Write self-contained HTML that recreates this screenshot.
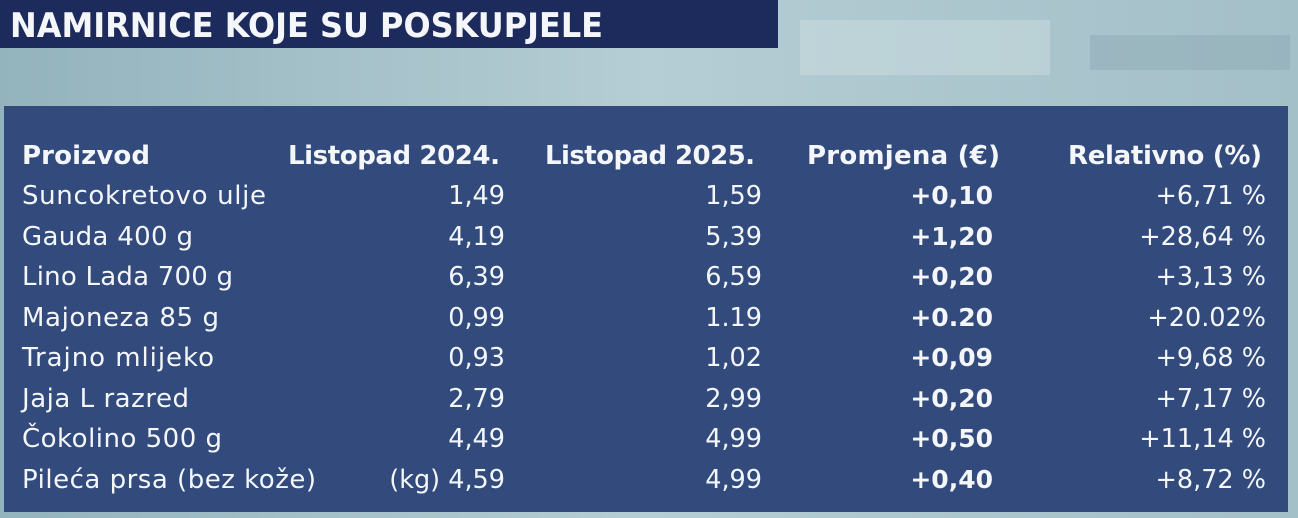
<!DOCTYPE html>
<html><head><meta charset="utf-8"><style>
html,body{margin:0;padding:0;width:1298px;height:518px;overflow:hidden;background:#9fbcc6}
svg{display:block}
text{font-family:"DejaVu Sans","Liberation Sans",sans-serif;fill:#f4f6fa}
</style></head><body>
<svg width="1298" height="518" viewBox="0 0 1298 518">
<defs>
<linearGradient id="bg" x1="0" y1="0" x2="1" y2="0">
<stop offset="0" stop-color="#93b3bd"/><stop offset="0.5" stop-color="#b5cdd4"/><stop offset="1" stop-color="#a3bfc8"/>
</linearGradient>
</defs>
<rect width="1298" height="518" fill="url(#bg)"/>
<rect x="800" y="20" width="250" height="55" fill="#cfdfe3" opacity="0.45"/>
<rect x="1090" y="35" width="200" height="35" fill="#8eaab4" opacity="0.5"/>
<rect x="0" y="0" width="778" height="48" fill="#1d2b5c"/>
<text x="10" y="37" font-size="34" font-weight="bold" textLength="593" lengthAdjust="spacingAndGlyphs">NAMIRNICE KOJE SU POSKUPJELE</text>
<rect x="4" y="106" width="1284" height="406" fill="#324b7c"/>
<g font-size="26">
<g font-weight="bold" lengthAdjust="spacingAndGlyphs">
<text x="22" y="164" textLength="128">Proizvod</text>
<text x="288" y="164" textLength="212">Listopad 2024.</text>
<text x="545" y="164" textLength="210">Listopad 2025.</text>
<text x="807" y="164" textLength="193">Promjena (€)</text>
<text x="1068" y="164" textLength="194">Relativno (%)</text>
</g>
<g lengthAdjust="spacingAndGlyphs">
<text x="22" y="204" textLength="244">Suncokretovo ulje</text>
<text x="22" y="245" textLength="171">Gauda 400 g</text>
<text x="22" y="285" textLength="211">Lino Lada 700 g</text>
<text x="22" y="326" textLength="197">Majoneza 85 g</text>
<text x="22" y="366" textLength="192">Trajno mlijeko</text>
<text x="22" y="407" textLength="167">Jaja L razred</text>
<text x="22" y="447" textLength="200">Čokolino 500 g</text>
<text x="22" y="488" textLength="294">Pileća prsa (bez kože)</text>
</g>
<g font-weight="bold" font-size="25" text-anchor="end">
<text x="993" y="204">+0,10</text><text x="993" y="245">+1,20</text><text x="993" y="285">+0,20</text><text x="993" y="326">+0.20</text><text x="993" y="366">+0,09</text><text x="993" y="407">+0,20</text><text x="993" y="447">+0,50</text><text x="993" y="488">+0,40</text>
</g>
<g text-anchor="end" font-size="25.5">
<text x="505" y="204">1,49</text><text x="505" y="245">4,19</text><text x="505" y="285">6,39</text><text x="505" y="326">0,99</text><text x="505" y="366">0,93</text><text x="505" y="407">2,79</text><text x="505" y="447">4,49</text><text x="505" y="488">(kg) 4,59</text>
<text x="762" y="204">1,59</text><text x="762" y="245">5,39</text><text x="762" y="285">6,59</text><text x="762" y="326">1.19</text><text x="762" y="366">1,02</text><text x="762" y="407">2,99</text><text x="762" y="447">4,99</text><text x="762" y="488">4,99</text>
<text x="1266" y="204">+6,71 %</text><text x="1266" y="245">+28,64 %</text><text x="1266" y="285">+3,13 %</text><text x="1266" y="326">+20.02%</text><text x="1266" y="366">+9,68 %</text><text x="1266" y="407">+7,17 %</text><text x="1266" y="447">+11,14 %</text><text x="1266" y="488">+8,72 %</text>
</g>
</g>
</svg>
</body></html>
